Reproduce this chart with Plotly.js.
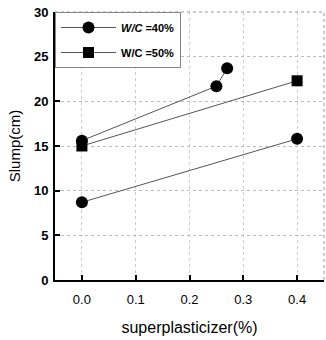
<!DOCTYPE html>
<html><head><meta charset="utf-8">
<script src="https://cdn.plot.ly/plotly-3.0.1.min.js"></script>
<style>html,body{margin:0;padding:0;background:#fff}</style>
</head><body>
<div id="chart" style="width:326px;height:340px"></div>
<script>
const xLow40 = [0.0, 0.4];
const yLow40 = [8.7, 15.8];
const xHigh40 = [0.0, 0.25, 0.27];
const yHigh40 = [15.6, 21.7, 23.7];
const x50 = [0.0, 0.4];
const y50 = [15.0, 22.3];
const xTicks = [0.0, 0.1, 0.2, 0.3, 0.4];
const xTickText = ['0.0', '0.1', '0.2', '0.3', '0.4'];
const yTicks = [0, 5, 10, 15, 20, 25, 30];

const lineStyle = {color: '#555', width: 1};
const traces = [
  {x: xLow40, y: yLow40, mode: 'lines+markers', name: '<i>W/C</i> =40%',
   marker: {symbol: 'circle', size: 12, color: '#000'}, line: lineStyle, legendgroup: 'a'},
  {x: xHigh40, y: yHigh40, mode: 'lines+markers', name: 'W/C =40%', showlegend: false,
   marker: {symbol: 'circle', size: 12, color: '#000'}, line: lineStyle, legendgroup: 'a'},
  {x: x50, y: y50, mode: 'lines+markers', name: 'W/C =50%', legendgroup: 'b',
   marker: {symbol: 'square', size: 11, color: '#000'}, line: lineStyle}
];

const layout = {
  width: 326, height: 340,
  margin: {l: 55, r: 2, t: 12, b: 60},
  paper_bgcolor: '#fff', plot_bgcolor: '#fff',
  font: {family: 'Liberation Sans, Arial, sans-serif', color: '#000', size: 12},
  showlegend: true,
  legend: {x: 0, y: 1, xanchor: 'left', yanchor: 'top', bgcolor: '#fff',
    bordercolor: '#888', borderwidth: 1, font: {size: 11, family: 'Liberation Sans, Arial, sans-serif', weight: 'bold'},
    itemwidth: 55, tracegroupgap: 6},
  xaxis: {range: [-0.05, 0.45], tickvals: xTicks, ticktext: xTickText,
    ticks: 'inside', ticklen: 5, tickwidth: 2, tickcolor: '#000',
    showline: true, linecolor: '#000', linewidth: 2, mirror: false,
    showgrid: true, gridcolor: '#ccc', griddash: 'dot', gridwidth: 1,
    zeroline: false, tickfont: {size: 13}, ticklabelstandoff: 6,
    title: {text: 'superplasticizer(%)', font: {size: 16}, standoff: 16}},
  yaxis: {range: [0, 30], tickvals: yTicks,
    ticks: 'inside', ticklen: 5, tickwidth: 2, tickcolor: '#000',
    showline: true, linecolor: '#000', linewidth: 2,
    showgrid: true, gridcolor: '#bbb', griddash: 'dot', gridwidth: 1,
    zeroline: false, tickfont: {size: 13, weight: 'bold'}, ticklabelstandoff: 2,
    title: {text: 'Slump(cm)', font: {size: 15}, standoff: 10}},
  shapes: [
    {type: 'line', xref: 'paper', yref: 'paper', x0: 0, x1: 1, y0: 1, y1: 1, line: {color: '#999', width: 1, dash: 'dot'}},
    {type: 'line', xref: 'paper', yref: 'paper', x0: 1, x1: 1, y0: 0, y1: 1, line: {color: '#999', width: 1, dash: 'dot'}}
  ]
};
Plotly.newPlot('chart', traces, layout, {displayModeBar: false, staticPlot: true});
</script>
</body></html>
